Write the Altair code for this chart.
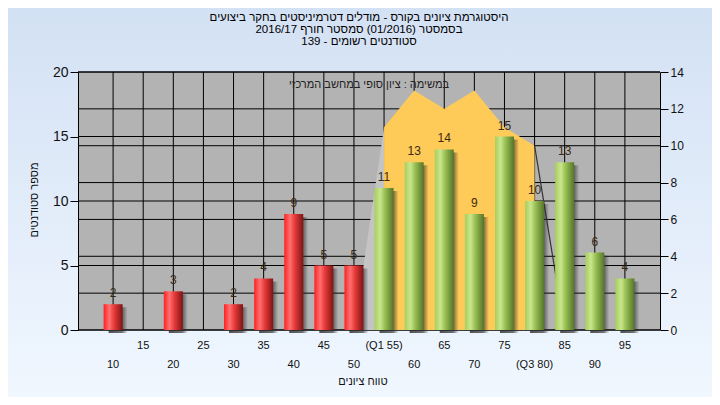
import altair as alt
import pandas as pd

# ---------------- data ----------------
grades = [10, 15, 20, 25, 30, 35, 40, 45, 50, 55, 60, 65, 70, 75, 80, 85, 90, 95]
counts = [2, 0, 3, 0, 2, 4, 9, 5, 5, 11, 13, 14, 9, 15, 10, 13, 6, 4]
x_labels = ["10", "15", "20", "25", "30", "35", "40", "45", "50", "(Q1 55)",
            "60", "65", "70", "75", "(Q3 80)", "85", "90", "95"]
area_grades = [50, 55, 60, 65, 70, 75, 80, 85]
area_values = [0, 11, 13, 12, 13, 11, 10, 0]
left_ticks = [0, 5, 10, 15, 20]
right_ticks = [0, 2, 4, 6, 8, 10, 12, 14]
x_ticks = list(range(5, 101, 5))
grid_x = list(range(10, 100, 5))
pass_grade = 55

title_lines = [
    "היסטוגרמת ציונים בקורס - מודלים דטרמיניסטים בחקר ביצועים",
    "בסמסטר  (01/2016)  סמסטר חורף 2016/17",
    "סטודנטים רשומים - 139",
]
area_label = "במשימה : ציון סופי במחשב המרכזי"
x_title = "טווח ציונים"
y_title = "מספר סטודנטים"

# ---------------- layout ----------------
W, H = 582, 258
PL, PT, PR, PB = 70, 64, 52, 67
FONT = "Liberation Sans"

bars = pd.DataFrame({"grade": grades, "count": counts, "label": x_labels})
bars["row"] = [i % 2 for i in range(len(grades))]
area_df = pd.DataFrame({"grade": area_grades, "value": area_values})
one = pd.DataFrame({"a": [0]})

xscale = alt.Scale(domain=[5, 100], nice=False, zero=False)
yl_scale = alt.Scale(domain=[0, 20], nice=False)
yr_scale = alt.Scale(domain=[0, 14], nice=False)


def grad(stops, vertical=False):
    return alt.Gradient(
        gradient="linear",
        stops=[alt.GradientStop(offset=o, color=c) for o, c in stops],
        x1=0, y1=0, x2=0 if vertical else 1, y2=1 if vertical else 0,
    )


def xenc():
    return alt.X("grade:Q", scale=xscale, axis=None)


left_axis = alt.Axis(orient="left", values=left_ticks, grid=False, title=None,
                     tickSize=8, tickColor="#000", domainColor="#000",
                     labelFontSize=14, labelFont=FONT, labelColor="#111",
                     labelPadding=2, zindex=1)
right_axis = alt.Axis(orient="right", values=right_ticks, grid=False, title=None,
                      tickSize=8, tickColor="#000", domainColor="#000",
                      labelFontSize=12, labelFont=FONT, labelColor="#111",
                      labelPadding=2, zindex=1)
bottom_axis = alt.Axis(values=x_ticks, labels=False, grid=False, title=None,
                       tickSize=4, tickColor="#000", domainColor="#000", zindex=1)

layers = []

# background and plot area
layers.append(alt.Chart(one).mark_rect(
    color=grad([(0, "#d3e1f4"), (1, "#f0f7ff")], vertical=True)
).encode(x=alt.value(-PL), x2=alt.value(W + PR), y=alt.value(-PT), y2=alt.value(H + PB)))
layers.append(alt.Chart(one).mark_rect(color="#b3b3b3").encode(
    x=alt.value(0), x2=alt.value(W), y=alt.value(0), y2=alt.value(H)))

# grid
layers.append(alt.Chart(pd.DataFrame({"g": grid_x})).mark_rule(color="#000", strokeWidth=1).encode(
    x=alt.X("g:Q", scale=xscale, axis=None), y=alt.value(0), y2=alt.value(H)))
layers.append(alt.Chart(pd.DataFrame({"v": left_ticks})).mark_rule(color="#000", strokeWidth=1).encode(
    y=alt.Y("v:Q", scale=yl_scale, axis=None), x=alt.value(0), x2=alt.value(W)))
layers.append(alt.Chart(pd.DataFrame({"v": right_ticks})).mark_rule(color="#000", strokeWidth=1).encode(
    y=alt.Y("v:Q", scale=yr_scale, axis=right_axis), x=alt.value(0), x2=alt.value(W)))

# area series (right axis)
layers.append(alt.Chart(area_df).transform_filter(
    (alt.datum.grade >= 50) & (alt.datum.grade <= 55)
).mark_area(color="#c4c4c4").encode(x=xenc(), y=alt.Y("value:Q", scale=yr_scale, axis=None)))
layers.append(alt.Chart(area_df).transform_filter(
    (alt.datum.grade >= 55) & (alt.datum.grade <= 80)
).mark_area(color="#ffcb58").encode(x=xenc(), y=alt.Y("value:Q", scale=yr_scale, axis=None)))
layers.append(alt.Chart(area_df).transform_filter(
    alt.datum.grade >= 80
).mark_line(color="#333", strokeWidth=1.2).encode(x=xenc(), y=alt.Y("value:Q", scale=yr_scale, axis=None)))

# bars (left axis)
nz = alt.datum["count"] > 0
layers.append(alt.Chart(bars).transform_filter(nz).mark_bar(
    size=19, xOffset=5, yOffset=3, y2Offset=5,
    color=grad([(0, "rgba(40,40,40,0.8)"), (0.7, "rgba(40,40,40,0.65)"), (1, "rgba(40,40,40,0)")]),
).encode(x=xenc(), y=alt.Y("count:Q", scale=yl_scale, axis=None)))
layers.append(alt.Chart(bars).transform_filter(nz & (alt.datum.grade < pass_grade)).mark_bar(
    size=19,
    color=grad([(0, "#ff2020"), (0.3, "#ff7070"), (0.55, "#e83a3a"), (1, "#7e1414")]),
).encode(x=alt.X("grade:Q", scale=xscale, axis=bottom_axis),
         y=alt.Y("count:Q", scale=yl_scale, axis=left_axis)))
layers.append(alt.Chart(bars).transform_filter(nz & (alt.datum.grade >= pass_grade)).mark_bar(
    size=19,
    color=grad([(0, "#a6cf5c"), (0.3, "#c9e68e"), (0.55, "#98bf52"), (1, "#56752a")]),
).encode(x=xenc(), y=alt.Y("count:Q", scale=yl_scale, axis=None)))
layers.append(alt.Chart(bars).transform_filter(nz).mark_text(
    dy=-11, baseline="middle", fontSize=12, font=FONT, color="#3a2a12"
).encode(x=xenc(), y=alt.Y("count:Q", scale=yl_scale, axis=None), text="count:Q"))

# x labels in two rows
layers.append(alt.Chart(bars).transform_filter(alt.datum.row == 1).mark_text(
    baseline="middle", fontSize=11, font=FONT, color="#111"
).encode(x=xenc(), y=alt.value(H + 16), text="label:N"))
layers.append(alt.Chart(bars).transform_filter(alt.datum.row == 0).mark_text(
    baseline="middle", fontSize=11, font=FONT, color="#111"
).encode(x=xenc(), y=alt.value(H + 35), text="label:N"))

# titles
for i, line in enumerate(title_lines):
    layers.append(alt.Chart(one).mark_text(
        baseline="middle", align="center", fontSize=11.5, font=FONT, color="#000"
    ).encode(x=alt.value(W / 2 - 10), y=alt.value(-54 + 12 * i), text=alt.value(line)))
layers.append(alt.Chart(one).mark_text(
    baseline="middle", align="center", fontSize=11, font=FONT, color="#222"
).encode(x=alt.value(W / 2), y=alt.value(13), text=alt.value(area_label)))
layers.append(alt.Chart(one).mark_text(
    baseline="middle", align="center", fontSize=11, font=FONT, color="#111"
).encode(x=alt.value(W / 2 - 6), y=alt.value(H + 52), text=alt.value(x_title)))
layers.append(alt.Chart(one).mark_text(
    baseline="middle", align="center", angle=270, fontSize=11, font=FONT, color="#111"
).encode(x=alt.value(-43), y=alt.value(128), text=alt.value(y_title)))

chart = alt.layer(*layers).resolve_scale(y="independent").properties(
    width=W, height=H,
    padding={"left": PL, "top": PT, "right": PR, "bottom": PB},
    autosize=alt.AutoSizeParams(type="none"),
    background="#e2ecf8",
).configure_view(stroke=None)

chart.save("out.html", embed_options={"renderer": "svg", "actions": False})
